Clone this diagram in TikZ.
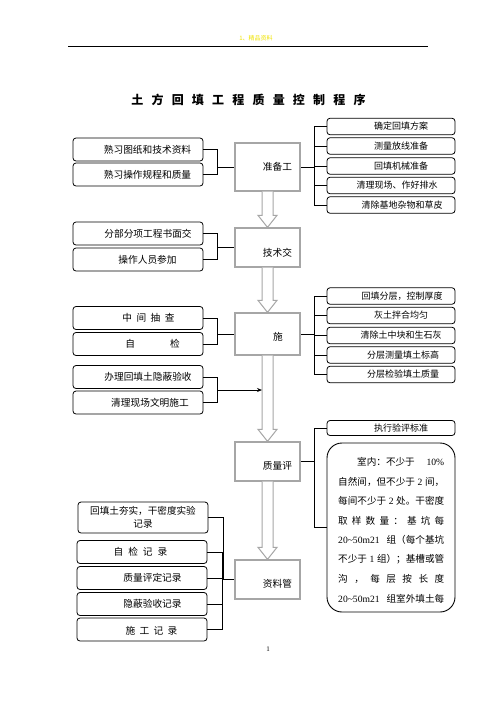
\documentclass[tikz,border=0pt]{standalone}
\usepackage{fontspec}
\setmainfont{Noto Sans CJK SC}
\newfontfamily\lat{Liberation Serif}
\usetikzlibrary{calc,arrows.meta}
\newcommand{\myfs}[1]{\fontsize{#1}{#1}\selectfont}
\newcommand{\harr}[2]{%
  \path[harrow] let \p1=(#1.south), \p2=(#2.north) in
    (\x1-5.5pt,\y1) -- (\x1-5.5pt,\y2+12pt) -- (\x1-9.5pt,\y2+12pt) -- (\x1,\y2)
    -- (\x1+9.5pt,\y2+12pt) -- (\x1+5.5pt,\y2+12pt) -- (\x1+5.5pt,\y1);}
\begin{document}
\begin{tikzpicture}[x=1pt,y=-1pt,
  lbox/.style={draw, rounded corners=3pt, line width=0.8pt, minimum width=130pt, minimum height=23pt, inner sep=0pt, fill=white},
  rbox/.style={draw, rounded corners=3pt, line width=0.8pt, minimum width=128pt, minimum height=16.5pt, inner sep=0pt, fill=white},
  cbox/.style={draw=gray!70, line width=1.3pt, minimum width=65pt, inner sep=0pt, fill=white},
  conn/.style={line width=0.9pt},
  harrow/.style={draw=gray!70, line width=1pt, fill=white, line join=miter},
  txt/.style={font=\myfs{9.7}, inner sep=0pt},
  rtxt/.style={font=\myfs{9}, inner sep=0pt},
  btxt/.style={font=\myfs{9.6}, inner sep=0pt, anchor=west},
]
\useasboundingbox (0,0) rectangle (496,702);
\fill[white] (0,0) rectangle (496,702);

% header
\node[font=\myfs{6}, text={rgb,255:red,240;green,228;blue,0}, inner sep=0pt] (hdr) at (256,38) {1、精品资料};
\coordinate (hl) at (68,46);
\coordinate (hr) at (428,46);
\draw[line width=0.8pt] (hl) -- (hr);

% title
\node[font=\myfs{12}\bfseries, inner sep=0pt] (title) at (248.5,100)
  {土\hspace{8.2pt}方\hspace{8.2pt}回\hspace{8.2pt}填\hspace{8.2pt}工\hspace{8.2pt}程\hspace{8.2pt}质\hspace{8.2pt}量\hspace{8.2pt}控\hspace{8.2pt}制\hspace{8.2pt}程\hspace{8.2pt}序};

% centre column
\node[cbox, minimum height=48pt, label={[txt,xshift=10pt]center:准备工}] (A) at (267.5,167) {};
\node[cbox, minimum height=39pt, label={[txt,xshift=10pt,yshift=-5.5pt]center:技术交}] (B) at (267.5,247.5) {};
\node[cbox, minimum height=42pt, label={[txt,xshift=10.5pt,yshift=-3pt]center:施}] (C) at (267.5,334) {};
\node[cbox, minimum height=39pt, label={[txt,xshift=10pt,yshift=-4.5pt]center:质量评}] (D) at (267.5,461.5) {};
\node[cbox, minimum height=39pt, label={[txt,xshift=10pt,yshift=-4.5pt]center:资料管}] (E) at (267.5,579.5) {};

\harr{A}{B}
\harr{B}{C}
\harr{C}{D}
\harr{D}{E}

% left boxes
\node[lbox, label={[txt,xshift=9.5pt]center:熟习图纸和技术资料}] (L1) at (138,149.5) {};
\node[lbox, label={[txt,xshift=9.5pt]center:熟习操作规程和质量}] (L2) at (138,174.5) {};
\node[lbox, label={[txt,xshift=10pt]center:分部分项工程书面交}] (L3) at (138,233.5) {};
\node[lbox, label={[txt,xshift=9.5pt]center:操作人员参加}] (L4) at (138,259.5) {};
\node[lbox, label={[txt,xshift=10.5pt]center:中\hspace{4.5pt}间\hspace{4.5pt}抽\hspace{4.5pt}查}] (L5) at (138,318) {};
\node[lbox, label={[txt,xshift=14.5pt]center:自\hspace{35pt}检}] (L6) at (138,344) {};
\node[lbox, label={[txt,xshift=10pt]center:办理回填土隐蔽验收}] (L7) at (138,377) {};
\node[lbox, label={[txt,xshift=12pt]center:清理现场文明施工}] (L8) at (138,402.5) {};

\foreach \n in {L1,L2} \draw[conn] (\n.east) -- ++(14,0) |- (A.west);
\foreach \n in {L3,L4} \draw[conn] (\n.east) -- ++(14,0) |- (B.west);
\foreach \n in {L5,L6} \draw[conn] (\n.east) -- ++(14,0) |- (C.west);
\coordinate (j1) at (217,390);
\coordinate (s1) at (262,390);
\foreach \n in {L7,L8} \draw[conn] (\n.east) -- ++(14,0) |- (j1);
\draw[conn,-{Stealth[length=5pt,width=4pt]}] (j1) -- (s1);

% lower left boxes
\node[lbox, minimum height=31pt, font=\fontsize{9.6}{12.5}\selectfont, align=center, xshift=1pt] (M1) at (142,517.5) {回填土夯实，干密度实验\\记录};
\node[lbox, label={[txt,xshift=-1.5pt]center:自\hspace{5pt}检\hspace{5pt}记\hspace{5pt}录}] (M2) at (142,552) {};
\node[lbox, label={[txt,xshift=10.5pt]center:质量评定记录}] (M3) at (142,578) {};
\node[lbox, label={[txt,xshift=10.5pt]center:隐蔽验收记录}] (M4) at (142,604) {};
\node[lbox, label={[txt,xshift=9.5pt,yshift=-1.5pt]center:施\hspace{4.3pt}工\hspace{4.3pt}记\hspace{4.3pt}录}] (M5) at (142,629.5) {};
\foreach \n in {M1,M2,M3,M4,M5} \draw[conn] (\n.east) -- ++(15,0) |- (E.west);

% right boxes, group 1
\node[rbox, label={[rtxt,xshift=10pt]center:确定回填方案}] (R1) at (391,126.5) {};
\node[rbox, label={[rtxt,xshift=10pt]center:测量放线准备}] (R2) at (391,146) {};
\node[rbox, label={[rtxt,xshift=10pt]center:回填机械准备}] (R3) at (391,166) {};
\node[rbox, label={[rtxt,xshift=6pt]center:清理现场、作好排水}] (R4) at (391,185.5) {};
\node[rbox, label={[rtxt,xshift=11pt]center:清除基地杂物和草皮}] (R5) at (391,205) {};
\foreach \n in {R1,R2,R3,R4,R5} \draw[conn] (\n.west) -- ++(-12,0) |- (A.east);

% right boxes, group 2
\node[rbox, label={[rtxt,xshift=11pt]center:回填分层，控制厚度}] (R6) at (391,296) {};
\node[rbox, label={[rtxt,xshift=10pt]center:灰土拌合均匀}] (R7) at (391,315.5) {};
\node[rbox, label={[rtxt,xshift=10pt]center:清除土中块和生石灰}] (R8) at (391,335.5) {};
\node[rbox, label={[rtxt,xshift=12pt]center:分层测量填土标高}] (R9) at (391,355) {};
\node[rbox, label={[rtxt,xshift=12pt]center:分层检验填土质量}] (R10) at (391,374.5) {};
\foreach \n in {R6,R7,R8,R9,R10} \draw[conn] (\n.west) -- ++(-12,0) |- (C.east);

% right boxes, group 3
\node[rbox, minimum height=15pt, label={[rtxt,xshift=10pt]center:执行验评标准}] (R11) at (391,428) {};
\node[draw, rounded corners=15pt, line width=0.9pt, minimum width=128pt, minimum height=169pt, inner sep=0pt, fill=white] (BIG) at (391,527.5) {};
\foreach \n in {R11,BIG} \draw[conn] (\n.west) -- ++(-12,0) |- (D.east);

\node[btxt] (b1) at (338,462) {\hbox to 106pt{\hspace*{19pt}室内：不少于\hfill {\lat 10\%}}};
\node[btxt] (b2) at (338,481.5) {\hbox to 106pt{自然间，但不少于\hfill {\lat 2}\hfill 间，}};
\node[btxt] (b3) at (338,501) {\hbox to 106pt{每间不少于\hfill {\lat 2}\hfill 处。干密度}};
\node[btxt] (b4) at (338,520.5) {\hbox to 106pt{取\hfill 样\hfill 数\hfill 量\hfill ：\hfill 基\hfill 坑\hfill 每}};
\node[btxt] (b5) at (338,540) {\hbox to 106pt{{\lat 20\textasciitilde 50m21}\hfill 组（每个基坑}};
\node[btxt] (b6) at (338,559.5) {\hbox to 106pt{不少于\hfill {\lat 1}\hfill 组）；基槽或管}};
\node[btxt] (b7) at (338,579) {\hbox to 106pt{沟\hfill ，\hfill 每\hfill 层\hfill 按\hfill 长\hfill 度}};
\node[btxt] (b8) at (338,598.5) {\hbox to 106pt{{\lat 20\textasciitilde 50m21}\hfill 组室外填土每}};

% page number
\node[font=\myfs{7}\lat, inner sep=0pt] (pg) at (268,649) {1};
\end{tikzpicture}
\end{document}
